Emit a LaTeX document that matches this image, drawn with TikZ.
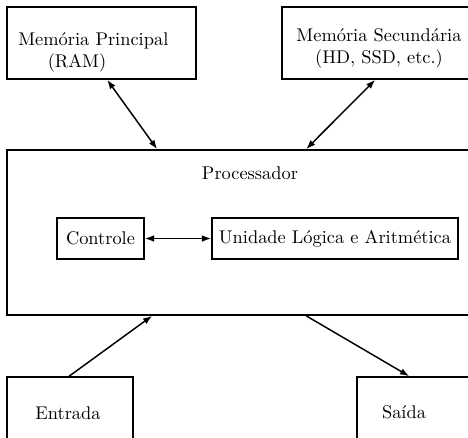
\documentclass[tikz,border=0pt]{standalone}
\usetikzlibrary{arrows.meta,fit,calc}
\begin{document}
\begin{tikzpicture}[x=0.544pt,y=-0.544pt,
  box/.style={draw,line width=0.9pt,inner sep=0pt},
  arr/.style={line width=0.8pt,-{Latex[length=5pt,width=3.6pt]}},
  darr/.style={line width=0.8pt,{Latex[length=5pt,width=3.6pt]}-{Latex[length=5pt,width=3.6pt]}},
  txt/.style={inner sep=0pt,font=\normalsize}]
\useasboundingbox (0,0) rectangle (468,438);
\clip (0,0) rectangle (468,438);
% boxes
\node[box,fit={(7,7) (196,79)}] (ram) {};
\node[box,fit={(282,7) (480,79)}] (sec) {};
\node[box,fit={(7,150) (480,315)}] (proc) {};
\node[box,fit={(57,218) (144,259)}] (ctrl) {};
\node[box,fit={(212,218) (458,259)}] (ula) {};
\node[box,fit={(7,377) (133,460)}] (ent) {};
\node[box,fit={(357,377) (480,460)}] (sai) {};
% texts
\node[txt,anchor=west,align=left] (ramt) at (18,52) {Memória Principal\\\hspace{16pt}(RAM)};
\node[txt,align=center] (sect) at (379,48) {Memória Secundária\\(HD, SSD, etc.)};
\node[txt] (proct) at (250,173) {Processador};
\node[txt] (ctrlt) at (ctrl.center) {Controle};
\node[txt] (ulat) at (ula.center) {Unidade Lógica e Aritmética};
\node[txt] (entt) at (68,413) {Entrada};
\node[txt] (sait) at (404,412) {Saída};
% connectors
\draw[darr] ($(ram.south west)+(101,0)$) -- ($(proc.north west)+(151,0)$);
\draw[darr] ($(sec.south west)+(94,0)$) -- ($(proc.north west)+(300,0)$);
\draw[darr] (ctrl.east) -- (ula.west);
\draw[arr] ($(ent.north west)+(63,0)$) -- ($(proc.south west)+(146,0)$);
\draw[arr] ($(proc.south west)+(300,0)$) -- ($(sai.north west)+(53,0)$);
\end{tikzpicture}
\end{document}
